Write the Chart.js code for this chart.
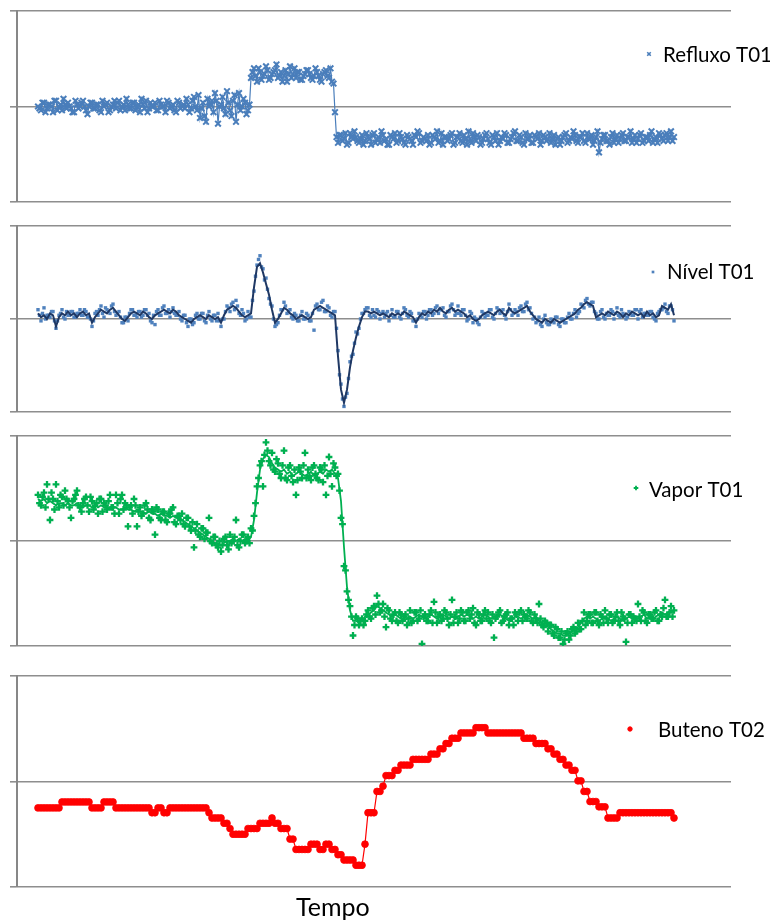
<!DOCTYPE html>
<html>
<head>
<meta charset="utf-8">
<script src="https://cdn.jsdelivr.net/npm/chart.js@4.4.1/dist/chart.umd.min.js"></script>
<style>
  html, body { margin: 0; padding: 0; background: #ffffff; }
  #wrap { position: relative; width: 770px; height: 922px; overflow: hidden; }
  #wrap canvas { position: absolute; left: 0; }
</style>
</head>
<body>
<div id="wrap">
  <canvas id="cRefluxo"></canvas>
  <canvas id="cNivel"></canvas>
  <canvas id="cVapor"></canvas>
  <canvas id="cButeno"></canvas>
</div>
<script>
// Process samples along the time axis, 0..100 scale per panel.
// Noisy signals come in two interleaved phases: "A" at whole steps, "B" half a step later.
const refluxoT01A = [
  50,48,52,49,51,47,53,50,48,51,
  52,49,47,51,50,53,48,50,52,49,
  51,47,50,52,48,51,49,53,50,48,
  51,49,52,50,47,51,53,49,50,52,
  48,51,50,53,49,51,47,52,50,49,
  51,49,55,48,44,52,42,50,53,57,
  41,51,49,58,48,53,42,57,50,52,
  48,65,70,63,68,66,71,64,67,69,
  65,68,66,63,71,67,65,68,64,67,
  69,65,66,68,64,67,69,65,63,47,
  31,35,33,30,36,33,34,31,35,32,
  34,30,36,33,31,35,33,30,34,36,
  32,34,31,35,33,30,34,36,32,33,
  35,31,34,37,32,30,34,33,36,31,
  34,32,35,30,33,36,32,34,31,35,
  33,30,34,36,32,33,35,31,34,37,
  32,34,30,33,35,31,34,36,32,34,
  33,31,35,33,30,34,36,32,33,35,
  31,34,32,36,33,30,34,26,33,35,
  32,34,31,35,33,36,32,34,31,35,
  33,36,32,34,35,31,34,36,33,35,
  32,37,34
];
const refluxoT01B = [
  49,52,47,51,50,53,48,51,54,49,
  50,47,53,49,52,50,46,52,49,51,
  48,53,51,47,50,53,52,48,51,54,
  49,52,48,51,54,49,47,52,50,48,
  53,50,47,52,50,48,53,49,51,54,
  47,53,50,56,49,45,54,51,47,53,
  50,55,46,52,45,56,51,48,54,46,
  51,68,66,70,64,67,69,65,68,72,
  66,63,69,67,65,70,68,64,66,69,
  67,64,70,66,63,68,66,70,62,34,
  35,32,36,31,34,37,32,33,30,36,
  33,35,31,34,37,32,30,35,33,31,
  36,33,30,34,32,35,37,31,34,32,
  30,35,33,31,36,34,32,35,30,34,
  36,31,33,37,31,34,35,30,33,36,
  31,35,32,30,34,36,31,33,36,32,
  35,31,36,33,31,35,33,30,35,32,
  36,33,30,34,32,35,31,34,37,32,
  34,36,31,33,35,32,37,31,35,32,
  30,36,33,31,35,32,34,37,33,31,
  35,31,34,32,37,33,31,35,32,36,
  34,32
];

const nivelT01A = [
  55,49,56,52,51,54,45,52,55,50,
  52,54,51,53,55,52,54,51,46,53,
  52,57,51,55,53,58,52,54,48,51,
  49,55,52,51,54,52,55,53,48,47,
  55,52,57,53,51,56,52,54,49,52,
  46,50,48,53,50,53,48,54,49,52,
  53,46,50,57,54,59,60,53,55,49,
  54,51,65,79,84,77,72,61,57,46,
  48,55,59,53,55,50,52,49,54,50,
  52,49,44,58,55,60,54,56,51,54,
  33,15,3,10,27,31,43,45,53,55,
  56,51,52,55,50,54,53,49,55,51,
  54,50,56,52,54,49,46,53,51,54,
  52,55,53,57,55,56,51,54,58,52,
  57,52,55,49,54,48,50,47,54,51,
  52,55,50,56,53,55,50,58,52,55,
  52,57,54,59,56,50,48,51,46,52,
  47,50,48,51,46,50,48,53,50,55,
  53,58,56,61,57,59,53,50,55,50,
  52,55,50,56,51,53,50,54,52,55,
  50,55,53,52,54,51,49,54,55,58,
  53,57,49
];
const nivelT01B = [
  52,53,50,52,54,49,49,53,51,54,
  52,54,51,53,52,55,51,50,49,54,
  55,53,56,54,57,54,53,51,48,51,
  53,55,52,54,51,55,52,49,52,54,
  52,56,53,55,54,53,52,50,52,48,
  50,47,52,50,53,49,52,50,52,49,
  49,50,54,56,58,55,57,52,53,50,
  51,60,73,82,78,71,66,58,50,47,
  52,55,57,54,51,53,49,52,50,53,
  49,53,57,55,59,54,57,52,54,45,
  20,7,8,18,30,37,42,50,53,56,
  52,55,51,54,53,51,54,52,51,54,
  51,53,55,51,53,49,50,52,54,50,
  55,52,56,53,55,52,54,57,55,53,
  53,55,52,50,53,51,48,51,53,52,
  55,51,53,55,54,52,54,55,53,54,
  56,54,58,55,53,51,49,47,50,48,
  47,49,51,47,50,48,51,50,53,51,
  54,57,60,58,59,54,50,54,51,53,
  52,54,53,52,55,52,51,53,52,55,
  54,51,53,52,54,50,53,55,56,54,
  57,55
];
// Moving-average trace of the level signal (one value per whole step)
const nivelT01Media = [
  53,51,52,50,53,52,46,51,53,52,
  54,52,53,51,53,54,52,53,48,51,
  53,55,54,53,55,56,54,52,50,49,
  51,53,54,53,52,54,53,51,50,52,
  53,54,55,54,53,55,54,52,51,50,
  49,48,50,51,52,51,50,52,51,50,
  51,48,52,55,56,57,56,54,52,51,
  52,53,67,78,80,75,69,63,55,48,
  50,53,56,55,53,52,50,51,52,51,
  50,51,55,56,57,56,55,54,53,52,
  30,12,5,12,24,33,40,46,51,54,
  54,53,54,53,52,53,52,51,53,52,
  53,52,54,53,52,51,48,51,53,52,
  54,53,55,54,56,54,53,55,56,54,
  55,54,53,51,52,50,49,50,52,53,
  54,53,52,54,55,53,52,56,54,53,
  54,55,56,57,54,52,50,49,48,50,
  49,48,50,49,48,49,50,51,52,53,
  55,56,58,59,58,57,51,52,53,52,
  54,53,52,54,53,51,53,52,54,53,
  52,53,51,54,52,53,51,52,57,56,
  55,58,52
];

const vaporT01A = [
  72,67,73,77,60,70,77,66,71,74,
  69,61,70,74,66,68,71,64,69,67,
  63,70,68,65,72,66,72,63,72,68,
  57,67,70,57,66,63,68,61,65,53,
  65,60,64,59,63,66,58,62,63,57,
  61,55,47,58,52,56,54,61,49,52,
  47,45,51,48,53,50,60,47,53,49,
  52,56,62,76,86,76,97,88,92,83,
  87,80,93,79,86,78,72,85,80,92,
  84,79,86,80,85,78,72,90,76,85,
  82,61,38,26,19,5,14,10,13,12,
  17,13,19,24,16,20,9,17,12,16,
  11,15,14,10,17,12,16,13,1,15,
  12,17,21,11,15,13,16,10,22,14,
  11,17,12,16,13,18,10,15,12,17,
  16,11,4,14,17,12,15,10,13,16,
  12,17,15,13,16,11,13,20,10,12,
  7,10,5,8,4,1,6,3,8,6,
  11,8,16,12,15,11,16,10,14,17,
  11,15,12,16,10,14,2,15,11,13,
  20,12,16,11,15,13,17,12,14,22,
  14,19,17
];
const vaporT01B = [
  68,71,66,70,73,65,69,72,67,70,
  66,69,72,67,64,70,67,71,65,68,
  70,64,67,69,66,63,68,70,65,67,
  66,63,67,64,62,67,65,60,64,66,
  61,64,60,63,65,59,62,60,58,61,
  57,59,55,53,56,51,54,50,52,48,
  50,48,52,46,49,52,48,50,53,50,
  49,55,68,80,88,91,93,86,84,89,
  82,86,80,85,81,84,79,83,86,80,
  81,85,82,79,84,86,81,82,87,81,
  74,58,36,22,14,10,13,12,10,15,
  14,18,15,20,17,14,18,13,15,12,
  16,12,15,13,11,16,12,17,14,12,
  15,11,16,14,12,17,13,15,11,16,
  13,16,12,17,15,11,16,12,15,13,
  12,15,13,16,11,14,16,13,10,15,
  16,12,14,17,12,15,11,13,9,11,
  10,6,9,4,7,3,7,5,9,7,
  8,12,10,15,11,16,12,15,11,13,
  15,11,14,12,16,13,11,15,14,12,
  14,17,12,15,13,16,12,15,18,14,
  16,14
];
// Moving-average trace of the steam flow (one value per whole step)
const vaporT01Media = [
  70,69,70,68,69,68,67,68,68,67,
  68,67,67,68,67,66,67,67,66,67,
  66,67,66,66,65,66,66,65,65,66,
  65,65,64,65,64,64,63,64,63,63,
  62,63,62,62,61,62,61,61,60,59,
  58,57,56,55,54,53,52,51,50,49,
  49,48,49,50,50,51,50,51,50,51,
  50,52,60,73,84,89,91,90,87,85,
  84,83,84,82,83,81,82,83,82,81,
  82,83,81,82,83,82,84,83,84,82,
  80,69,47,28,17,12,12,11,12,14,
  15,16,17,19,18,17,16,15,14,15,
  14,13,12,13,14,13,14,15,14,13,
  14,15,14,13,14,15,14,13,14,13,
  14,15,14,15,14,13,14,13,14,15,
  14,13,14,14,15,14,13,12,13,14,
  14,13,14,15,14,13,14,12,11,10,
  9,8,7,6,6,5,5,6,7,8,
  9,11,13,14,13,14,13,12,13,14,
  13,12,13,14,13,12,13,14,13,14,
  13,14,15,13,14,13,14,15,16,15,
  16,17,16
];

const butenoT02 = [
  37.5,37.5,37.5,37.5,37.5,37.5,37.5,37.5,40.3,40.3,
  40.3,40.3,40.3,40.3,40.3,40.3,40.3,40.3,37.5,37.5,
  37.5,37.5,40.3,40.3,40.3,40.3,37.5,37.5,37.5,37.5,
  37.5,37.5,37.5,37.5,37.5,37.5,37.5,37.5,35.2,35.2,
  37.5,37.5,35.2,35.2,37.5,37.5,37.5,37.5,37.5,37.5,
  37.5,37.5,37.5,37.5,37.5,37.5,37.5,35.2,32.7,32.7,
  32.7,32.7,30.2,30.2,27.7,25.0,25.0,25.0,25.0,25.0,
  27.7,27.7,27.7,27.7,30.2,30.2,30.2,30.2,32.7,30.2,
  30.2,27.7,27.7,27.7,22.7,22.7,17.8,17.8,17.8,17.8,
  17.8,20.3,20.3,20.3,17.8,17.8,20.3,20.3,17.8,17.8,
  15.3,15.3,12.8,12.8,12.8,12.8,10.3,10.3,10.3,20.3,
  35.2,35.2,35.2,45.3,45.3,47.8,52.8,52.8,52.8,55.3,
  55.3,57.8,57.8,57.8,57.8,60.5,60.5,60.5,60.5,60.5,
  60.5,63.0,63.0,63.0,65.5,65.5,68.0,68.0,70.5,70.5,
  70.5,73.0,73.0,73.0,73.0,73.0,75.5,75.5,75.5,75.5,
  73.0,73.0,73.0,73.0,73.0,73.0,73.0,73.0,73.0,73.0,
  73.0,73.0,70.5,70.5,70.5,70.5,68.0,68.0,68.0,68.0,
  65.5,65.5,63.0,63.0,60.5,60.5,57.8,57.8,55.3,55.3,
  50.3,50.3,45.3,45.3,40.5,40.5,40.5,38.0,38.0,38.0,
  32.7,32.7,32.7,32.7,35.2,35.2,35.2,35.2,35.2,35.2,
  35.2,35.2,35.2,35.2,35.2,35.2,35.2,35.2,35.2,35.2,
  35.2,35.2,32.7
];

const seriesNames = ['Refluxo T01', 'Nível T01', 'Vapor T01', 'Buteno T02'];
const axisTitle = 'Tempo';

// sample index -> {x, y}
const toPoints = arr => arr.map((v, i) => ({ x: i, y: v }));
// merge the two sampling phases in time order
const interleave = (a, b) => {
  const pts = [];
  a.forEach((v, i) => {
    pts.push({ x: i, y: v });
    if (i < b.length) pts.push({ x: i + 0.5, y: b[i] });
  });
  return pts;
};

const FONT = 'Lato, "Open Sans", "DejaVu Sans", sans-serif';

// Single-entry legend beside each panel (plus the time caption under the last one)
const sideLegend = {
  id: 'sideLegend',
  afterDraw(chart, args, opts) {
    const ctx = chart.ctx;
    const ds = chart.data.datasets[opts.datasetIndex];
    ctx.save();
    ctx.fillStyle = ds.pointBackgroundColor;
    ctx.strokeStyle = ds.pointBorderColor;
    ctx.lineWidth = opts.markerBorder;
    Chart.helpers.drawPoint(ctx, {
      pointStyle: ds.pointStyle,
      radius: opts.markerRadius,
      rotation: 0,
      borderWidth: opts.markerBorder
    }, opts.markerX, opts.markerY);
    ctx.fillStyle = '#000000';
    ctx.font = opts.fontSize + 'px ' + FONT;
    ctx.textBaseline = 'alphabetic';
    ctx.textAlign = 'left';
    ctx.fillText(opts.text, opts.textX, opts.baseline);
    if (opts.caption) {
      ctx.font = opts.caption.fontSize + 'px ' + FONT;
      ctx.fillText(opts.caption.text, opts.caption.x, opts.caption.baseline);
    }
    ctx.restore();
  }
};

function makePanel(canvasId, top, height, padTop, padBottom, datasets, legend) {
  const cv = document.getElementById(canvasId);
  cv.style.top = top + 'px';
  cv.width = 770;
  cv.height = height;
  return new Chart(cv, {
    type: 'scatter',
    data: { datasets },
    plugins: [sideLegend],
    options: {
      responsive: false,
      animation: false,
      devicePixelRatio: 1,
      layout: { padding: { left: 10, right: 39, top: padTop, bottom: padBottom } },
      plugins: {
        legend: { display: false },
        tooltip: { enabled: false },
        sideLegend: legend
      },
      scales: {
        x: { type: 'linear', min: -7, max: 231, display: false },
        y: {
          min: 0, max: 100,
          ticks: { stepSize: 50, display: false },
          grid: { color: '#8e8e8e', lineWidth: 1.6, tickLength: 7, drawTicks: true },
          border: { display: true, color: '#878787', width: 2 },
          afterFit(scale) { scale.width = 7; }
        }
      }
    }
  });
}

function legendOpts(idx, text, mx, my, tx, base, top, r, bw, extra) {
  return Object.assign({
    datasetIndex: idx, text: text,
    markerX: mx, markerY: my - top, textX: tx, baseline: base - top,
    markerRadius: r, markerBorder: bw, fontSize: 20.5
  }, extra || {});
}

const blue = '#4a7ebb';
const navy = '#1f3864';
const green = '#00b050';
const red = '#ff0000';

// Panel 1: reflux flow
makePanel('cRefluxo', 3, 207, 8, 8, [
  {
    label: seriesNames[0], data: interleave(refluxoT01A, refluxoT01B), showLine: true,
    borderColor: blue, borderWidth: 1.2,
    pointStyle: 'crossRot', pointRadius: 4, pointBorderWidth: 2,
    pointBorderColor: blue, pointBackgroundColor: blue
  }
], legendOpts(0, seriesNames[0], 649, 54, 663, 62, 3, 2.5, 1.6));

// Panel 2: level, with its moving-average trace on top
makePanel('cNivel', 216, 204, 10, 8, [
  {
    label: 'Média móvel', data: toPoints(nivelT01Media), showLine: true,
    borderColor: navy, borderWidth: 2, pointRadius: 0
  },
  {
    label: seriesNames[1], data: interleave(nivelT01A, nivelT01B), showLine: false,
    pointStyle: 'rect', pointRadius: 2.4, pointBorderWidth: 0,
    pointBorderColor: '#4f81bd', pointBackgroundColor: '#4f81bd'
  }
], legendOpts(1, seriesNames[1], 653, 272, 667, 279, 216, 1.9, 0));

// Panel 3: steam flow, with its moving-average trace on top
makePanel('cVapor', 426, 228, 10, 8, [
  {
    label: 'Média móvel', data: toPoints(vaporT01Media), showLine: true,
    borderColor: green, borderWidth: 1.8, pointRadius: 0
  },
  {
    label: seriesNames[2], data: interleave(vaporT01A, vaporT01B), showLine: false,
    pointStyle: 'cross', pointRadius: 3.4, pointBorderWidth: 2.3,
    pointBorderColor: green, pointBackgroundColor: green
  }
], legendOpts(1, seriesNames[2], 636, 488, 649, 497, 426, 2.3, 1.8));

// Panel 4: butene composition, with the time caption underneath
makePanel('cButeno', 666, 256, 10, 35, [
  {
    label: seriesNames[3], data: toPoints(butenoT02), showLine: true,
    borderColor: red, borderWidth: 1.2,
    pointStyle: 'circle', pointRadius: 3.4, pointBorderWidth: 0.8,
    pointBorderColor: red, pointBackgroundColor: red
  }
], legendOpts(0, seriesNames[3], 630, 729, 658, 737, 666, 2.2, 1, {
  caption: { text: axisTitle, x: 296, baseline: 916 - 666, fontSize: 25 }
}));
</script>
</body>
</html>
